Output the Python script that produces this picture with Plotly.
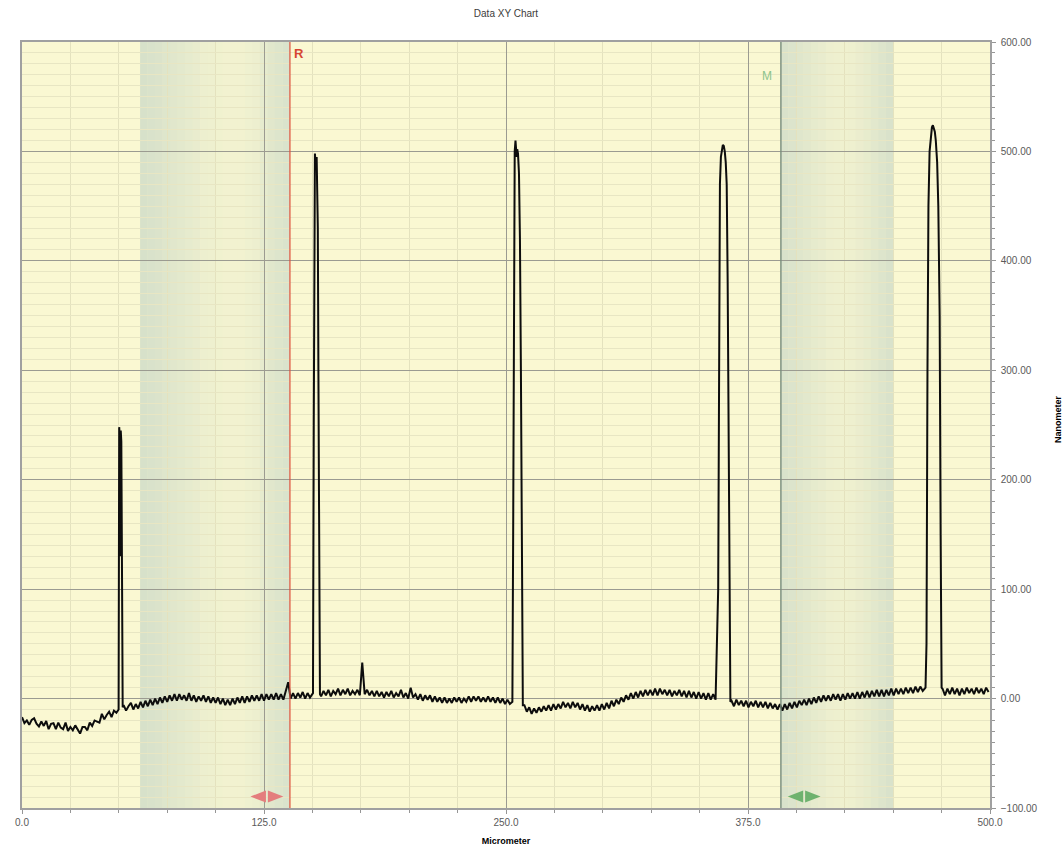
import plotly.graph_objects as go

# ---------------- data ----------------
base_step = 1.25

base_A_start = 0.0
base_A = [-17, -22.5, -20, -24, -19.5, -18, -23, -25.5, -21, -25, -20.5, -28, -23, -22.5, -28, -22,
          -26.5, -28, -22, -29.5, -26, -29, -24.5, -29, -32, -26, -26, -29, -22, -25, -20, -21,
          -22, -14, -19, -15, -12, -17, -11, -13]

peak_1_x = [49.9, 50.2, 50.5, 50.8, 51.0, 51.3, 51.7, 52.0]
peak_1_y = [-10, 248, 240, 130, 245, 235, 100, -8]

base_B_start = 52.5
base_B = [-6, -11, -7, -4, -10, -5, -9, -3, -8, -2, -7, -1, -6, 0, -5, 1, -4, 2, -3, 3, -2, 4, -2, 4,
          -1, 3, -2, 5, -2, 3, -3, 2, -2, 3, -3, 2, -4, 1, -4, 1, -5, 0, -6, -1, -6, 0, -5, 1, -4, 2,
          -4, 2, -3, 3, -2, 3, -2, 4, -2, 4, -1, 4, -1, 5, -1, 4, -1, 6, 15, 0, 5, 0, 5, 1, 6, 0, 5, 1]

peak_2_x = [150.3, 150.7, 151.0, 151.3, 151.6, 151.9, 152.2, 152.5, 152.8, 153.1, 153.5, 153.9]
peak_2_y = [5, 250, 470, 498, 490, 485, 495, 470, 430, 300, 120, 4]

base_C_start = 154.5
base_C = [2, 7, 3, 8, 2, 7, 4, 9, 3, 8, 4, 9, 3, 7, 4, 8, 3, 33, 4, 8, 3, 7, 2, 7, 2, 6, 1, 6, 2, 7,
          1, 5, 2, 8, 1, 5, 0, 10, 1, 4, -1, 4, -2, 3, -1, 3, -3, 2, -3, 1, -4, 1, -4, 0, -4, 1, -3, 1,
          -4, 0, -3, 2, -3, 2, -2, 2, -3, 1, -3, 2, -3, 1, -4, 1, -4, 0, -5, -1, -5]

peak_3_x = [253.3, 253.7, 254.1, 254.5, 254.9, 255.2, 255.5, 255.8, 256.2, 256.7, 257.2, 257.7, 258.2, 258.7]
peak_3_y = [-3, 150, 420, 500, 510, 505, 495, 502, 498, 480, 420, 300, 120, -6]

base_D_start = 259.5
base_D = [-6, -12, -8, -14, -9, -13, -8, -12, -7, -11, -6, -11, -5, -10, -5, -9, -3, -8, -4, -9,
          -3, -8, -4, -10, -5, -11, -6, -12, -7, -11, -6, -11, -5, -10, -4, -9, -2, -7, -1, -5,
          1, -3, 3, -1, 5, 0, 6, 1, 7, 2, 8, 3, 8, 3, 9, 3, 9, 4, 8, 3,
          8, 2, 7, 3, 8, 2, 7, 1, 7, 1, 6, 0, 6, 0, 5, -1, 5, -1, 4, -1]

peak_4_x = [359.6, 360.0, 360.5, 361.0, 361.5, 362.0, 362.5, 363.0, 363.5, 364.0, 364.5, 365.0, 365.5, 365.9]
peak_4_y = [100, 350, 470, 495, 503, 506, 505, 500, 490, 470, 380, 200, 50, -3]

base_E_start = 366.5
base_E = [-2, -7, -1, -6, -2, -7, -2, -8, -3, -7, -2, -8, -3, -8, -3, -9, -4, -9, -5, -10,
          -5, -11, -5, -10, -4, -9, -3, -8, -2, -6, -1, -6, 0, -5, 1, -4, 2, -3, 3, -2,
          3, -2, 4, -1, 4, -2, 4, -1, 5, 0, 5, 0, 6, 0, 6, 1, 7, 1, 7, 2,
          8, 2, 8, 2, 8, 3, 9, 3, 9, 4, 9, 4, 10, 5, 10, 5, 11, 6, 11, 7]

peak_5_x = [466.7, 467.2, 467.7, 468.2, 468.8, 469.4, 470.0, 470.5, 471.0, 471.5, 472.0, 472.7, 473.3, 474.0, 474.5, 475.0]
peak_5_y = [10, 50, 300, 450, 500, 515, 522, 524, 520, 518, 510, 490, 450, 350, 150, 10]

base_F_start = 475.5
base_F = [9, 3, 9, 4, 10, 4, 9, 3, 9, 4, 10, 5, 9, 4, 10, 5, 9, 4, 10, 6]

x_ticks = [0, 125, 250, 375, 500]
y_ticks = [-100, 0, 100, 200, 300, 400, 500, 600]

cursor_R = 138.4
cursor_M = 392.0
band_1 = (61.0, 138.4)
band_2 = (392.0, 450.0)
marker_R = 126.5
marker_M = 404.0


def stretch(start, values):
    return [start + i * base_step for i in range(len(values))], list(values)


x_um, y_nm = [], []
for part in [stretch(base_A_start, base_A), (peak_1_x, peak_1_y),
             stretch(base_B_start, base_B), (peak_2_x, peak_2_y),
             stretch(base_C_start, base_C), (peak_3_x, peak_3_y),
             stretch(base_D_start, base_D), (peak_4_x, peak_4_y),
             stretch(base_E_start, base_E), (peak_5_x, peak_5_y),
             stretch(base_F_start, base_F)]:
    x_um += list(part[0])
    y_nm += list(part[1])

# ---------------- figure ----------------
fig = go.Figure()
fig.add_trace(go.Scatter(
    x=x_um, y=y_nm, mode="lines",
    line=dict(color="#0d0d0d", width=2),
    hoverinfo="skip", showlegend=False,
))

shapes = []


def band(x0, x1, profile, color="rgb(178,200,195)"):
    n = len(profile)
    w = (x1 - x0) / n
    for i, op in enumerate(profile):
        shapes.append(dict(
            type="rect", xref="x", yref="paper",
            x0=x0 + i * w, x1=x0 + (i + 1) * w, y0=0, y1=1,
            fillcolor=color, opacity=op, line=dict(width=0), layer="below",
        ))


band(band_1[0], band_1[1],
     [0.48, 0.46, 0.43, 0.39, 0.35, 0.31, 0.27, 0.23, 0.19, 0.16, 0.13, 0.11,
      0.10, 0.11, 0.14, 0.19, 0.27, 0.35, 0.40, 0.44])
band(band_2[0], band_2[1],
     [0.45, 0.42, 0.38, 0.33, 0.28, 0.23, 0.19, 0.16, 0.15, 0.17,
      0.21, 0.26, 0.33, 0.40, 0.46])

# cursors
shapes.append(dict(type="line", xref="x", yref="paper", x0=cursor_R, x1=cursor_R,
                   y0=0, y1=1, line=dict(color="rgb(222,80,60)", width=1.2)))
shapes.append(dict(type="line", xref="x", yref="paper", x0=cursor_M, x1=cursor_M,
                   y0=0, y1=1, line=dict(color="rgb(120,140,125)", width=1.4)))


def double_arrow(xc, color, half=8.5, gap=0.5, yc=-89.5, h=5.5):
    left = f"M {xc-gap} {yc-h} L {xc-half} {yc} L {xc-gap} {yc+h} Z"
    right = f"M {xc+gap} {yc-h} L {xc+half} {yc} L {xc+gap} {yc+h} Z"
    for p in (left, right):
        shapes.append(dict(type="path", xref="x", yref="y", path=p,
                           fillcolor=color, line=dict(width=0), layer="above"))


double_arrow(marker_R, "rgb(228,125,125)")
double_arrow(marker_M, "rgb(110,178,110)")

annotations = [
    dict(text="<b>R</b>", x=cursor_R, y=1, xref="x", yref="paper", xanchor="left", yanchor="top",
         xshift=2, yshift=-2, showarrow=False, font=dict(color="rgb(215,70,50)", size=13)),
    dict(text="M", x=cursor_M, y=1, xref="x", yref="paper", xanchor="right", yanchor="top",
         xshift=-7, yshift=-25, showarrow=False, font=dict(color="rgb(140,195,140)", size=12)),
    # y-axis title (placed explicitly near the right edge)
    dict(text="<b>Nanometer</b>", x=1, y=0.5, xref="paper", yref="paper",
         xanchor="center", yanchor="middle", xshift=68, yshift=6, textangle=-90,
         showarrow=False, font=dict(size=9, color="black")),
]

font_family = "Liberation Sans, Arial, sans-serif"
fig.update_layout(
    width=1063, height=850,
    margin=dict(l=22, r=73, t=42, b=42, autoexpand=False),
    paper_bgcolor="white",
    plot_bgcolor="rgb(250,248,210)",
    font=dict(family=font_family, color="rgb(90,90,90)", size=10),
    title=dict(text="Data XY Chart", x=0.476, xanchor="center", y=0.9847, yanchor="middle",
               font=dict(size=10, color="rgb(60,60,60)")),
    shapes=shapes,
    annotations=annotations,
    showlegend=False,
)
fig.update_xaxes(
    range=[0, 500], tickvals=x_ticks, tickformat=".1f",
    showgrid=True, gridcolor="rgb(155,155,145)", gridwidth=1,
    minor=dict(dtick=25, showgrid=True, gridcolor="rgb(228,226,190)", ticks="outside",
               ticklen=3, tickcolor="rgb(150,150,150)"),
    ticks="outside", ticklen=4, tickcolor="rgb(150,150,150)",
    showline=True, linecolor="rgb(160,160,160)", linewidth=1.5, mirror=True,
    zeroline=False, automargin=False,
    tickfont=dict(size=10, color="rgb(90,90,90)"),
    title=dict(text="<b>Micrometer</b>", standoff=11, font=dict(size=9, color="black")),
)
fig.update_yaxes(
    range=[-100, 600], tickvals=y_ticks, tickformat=".2f", side="right",
    showgrid=True, gridcolor="rgb(155,155,145)", gridwidth=1,
    minor=dict(dtick=10, showgrid=True, gridcolor="rgb(232,230,195)", ticks="outside",
               ticklen=3, tickcolor="rgb(150,150,150)"),
    ticks="outside", ticklen=4, tickcolor="rgb(150,150,150)", ticklabelstandoff=3,
    showline=True, linecolor="rgb(160,160,160)", linewidth=1.5, mirror=True,
    zeroline=False, automargin=False,
    tickfont=dict(size=10, color="rgb(90,90,90)"),
)

fig.write_html("out.html", config={"displayModeBar": False},
               post_script="document.body.style.margin='0px';document.body.style.overflow='hidden';")
